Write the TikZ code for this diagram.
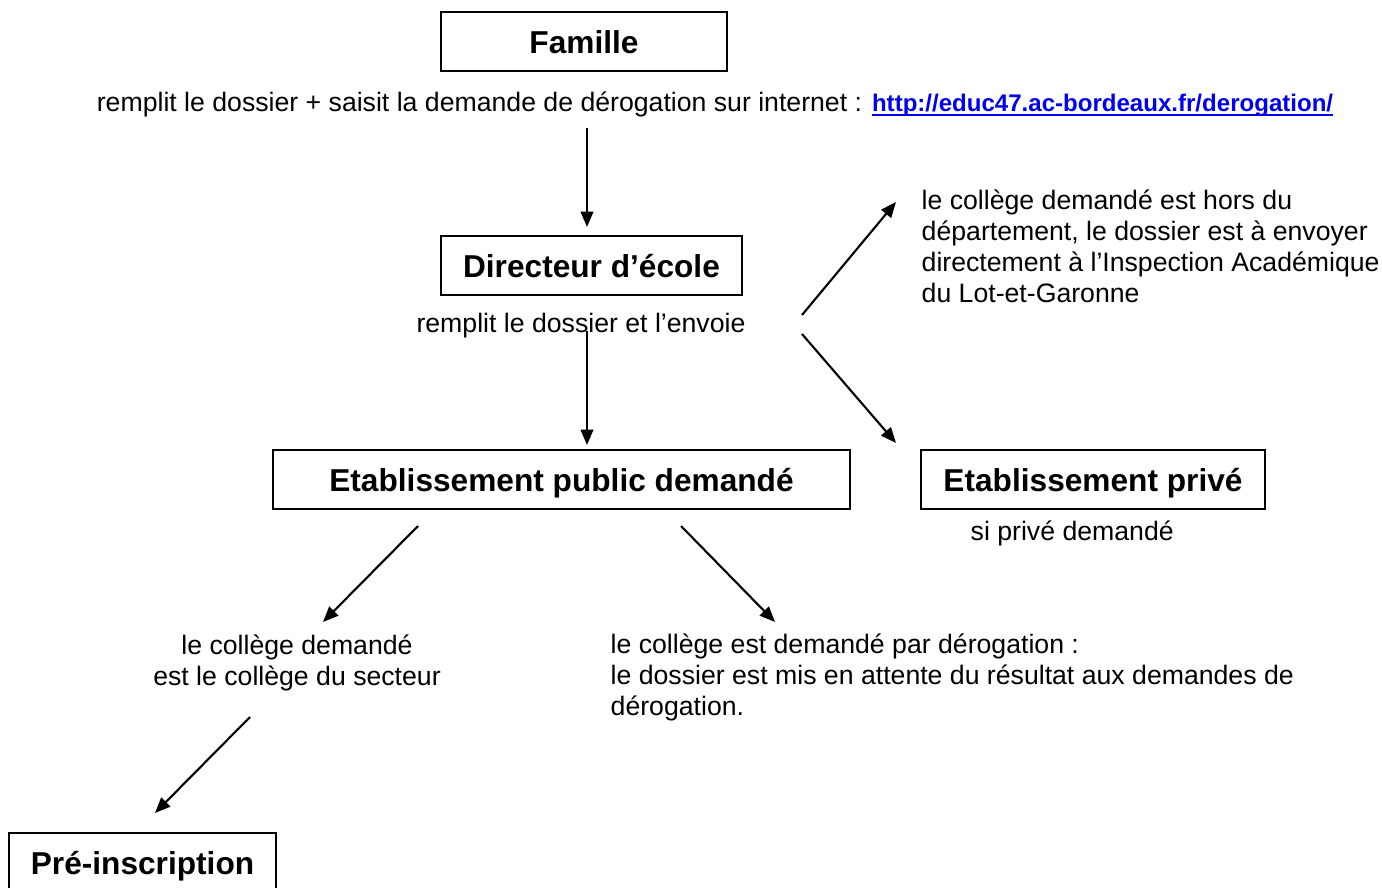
\documentclass[tikz,border=0pt]{standalone}
\usepackage{fontspec}
\setmainfont{Liberation Sans}
\usetikzlibrary{arrows.meta,positioning}

\newcommand\souligne[1]{\leavevmode\setbox0=\hbox{#1}\rlap{\copy0}\rule[-1.4pt]{\wd0}{0.55pt}}

\tikzset{
  etape/.style={draw, line width=0.6pt, inner sep=0pt, minimum height=0.59cm,
    text height=6.6pt, text depth=0pt,
    font=\fontsize{9}{10.8}\selectfont\bfseries},
  texte/.style={inner sep=0pt, font=\fontsize{7.58}{8.8}\selectfont},
  fleche/.style={-{Triangle[length=4.4pt,width=3.6pt]}, line width=0.6pt}
}
\definecolor{lien}{RGB}{0,0,238}

\begin{document}
\begin{tikzpicture}[x=0.01cm, y=-0.01cm]
  \useasboundingbox (0,0) rectangle (1382,888);
  % boites
  \node (fam) [etape, minimum width=2.86cm] at (584,41.5) {Famille};
  \node (dir) [etape, minimum width=3.01cm] at (591.5,265.5) {Directeur d'école};
  \node (pub) [etape, minimum width=5.77cm] at (561.5,479.5) {Etablissement public demandé};
  \node (priv) [etape, minimum width=3.44cm] at (1093,479.5) {Etablissement privé};
  \node (pre) [etape, minimum width=2.67cm] at (142.5,862.5) {Pré-inscription};
  % textes
  \node (famtxt) [texte] at (715,104) {remplit le dossier + saisit la demande de dérogation sur internet :
    {\fontsize{6.84}{8}\selectfont\bfseries\color{lien}\souligne{http://educ47.ac-bordeaux.fr/derogation/}}};
  \node (dirtxt) [texte] at (581,326) {remplit le dossier et l'envoie};
  \node (hors) [texte, align=left, anchor=north west] at (921,189)
    {le collège demandé est hors du\\département, le dossier est à envoyer\\directement à l'Inspection Académique\\du Lot-et-Garonne};
  \node (privtxt) [texte, anchor=west] at (970,533) {si privé demandé};
  \node (secteur) [texte, align=center] at (297,663) {le collège demandé\\est le collège du secteur};
  \node (derog) [texte, align=left, anchor=north west] at (610,633)
    {le collège est demandé par dérogation :\\le dossier est mis en attente du résultat aux demandes de\\dérogation.};
  % fleches
  \coordinate (a1) at (587,128);
  \coordinate (a2) at (587,331);
  \coordinate (b1) at (802,315);
  \coordinate (b2) at (802,334);
  \coordinate (c1) at (418,526);
  \coordinate (c2) at (681,526);
  \coordinate (d1) at (250,717);
  \draw[fleche] (a1) -- (587,227);
  \draw[fleche] (a2) -- (587,445);
  \draw[fleche] (b1) -- (896,202);
  \draw[fleche] (b2) -- (896,443);
  \draw[fleche] (c1) -- (323,622);
  \draw[fleche] (c2) -- (775,622);
  \draw[fleche] (d1) -- (155,813);
\end{tikzpicture}
\end{document}
